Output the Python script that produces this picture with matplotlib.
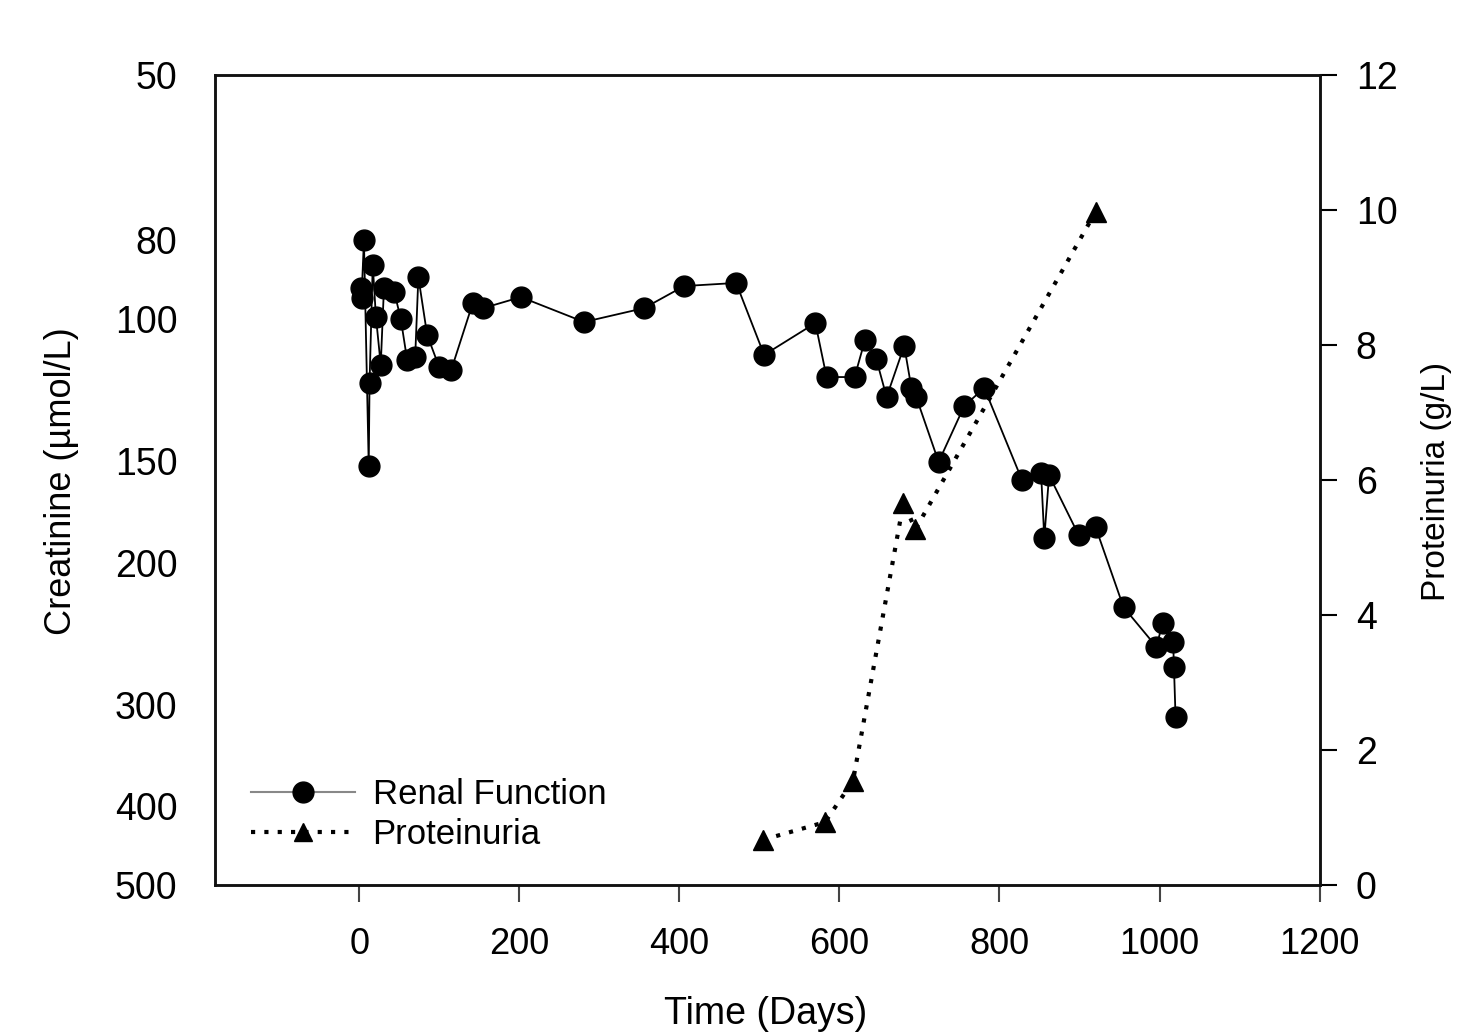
import matplotlib.pyplot as plt
from matplotlib.lines import Line2D
from matplotlib.ticker import NullFormatter

plt.rcParams['font.family'] = ['Liberation Sans', 'DejaVu Sans']

# Renal function: creatinine (umol/L) against time (days)
renal_days = [2, 3, 6, 12, 13, 17, 21, 27, 31, 44, 52, 60, 70, 74, 85, 100, 115,
              142, 155, 202, 281, 356, 406, 471, 506, 570, 584, 619, 632, 646,
              659, 681, 690, 696, 724, 756, 781, 828, 852, 856, 862, 899, 920,
              955, 996, 1004, 1017, 1018, 1020]
creatinine = [91.6, 94.2, 80, 152, 120, 85.8, 99.5, 114, 91.6, 92.7, 100, 112.4,
              111.6, 88.8, 104.7, 114.7, 115.7, 95.6, 97, 94, 100.9, 97, 91.1,
              90.3, 110.8, 101.2, 118, 118, 106.2, 112, 124.9, 108, 121.7, 124.9,
              150.2, 128.1, 121.7, 158, 155, 186.5, 156, 185, 180.7, 227, 254,
              237.4, 250.6, 269, 310]

# Proteinuria (g/L)
prot_days = [505, 582, 617, 680, 695, 920]
proteinuria = [0.67, 0.93, 1.54, 5.66, 5.27, 9.97]

creat_ticks = [50, 80, 100, 150, 200, 300, 400, 500]
prot_ticks = [0, 2, 4, 6, 8, 10, 12]
day_ticks = [0, 200, 400, 600, 800, 1000, 1200]

fig = plt.figure(figsize=(14.63, 10.35), dpi=100)
ax = fig.add_axes([0.147, 0.145, 0.755, 0.7825])

ax.plot(renal_days, creatinine, color='black', lw=1.3, marker='o',
        markersize=15, markerfacecolor='black', markeredgecolor='black')
ax.set_yscale('log')
ax.set_ylim(500, 50)
ax.set_xlim(-180, 1200)
ax.set_yticks(creat_ticks)
ax.set_yticklabels([str(t) for t in creat_ticks])
ax.yaxis.set_minor_formatter(NullFormatter())
ax.set_yticks([100], minor=True)
ax.tick_params(axis='y', which='major', length=0, pad=27, labelsize=27)
ax.tick_params(axis='y', which='minor', length=9, color='#999999', width=1.5)
ax.set_xticks(day_ticks)
ax.tick_params(axis='x', length=12, width=1.5, color='#444444', pad=18,
               labelsize=26)

ax2 = ax.twinx()
ax2.plot(prot_days, proteinuria, color='black', lw=3, linestyle=(0, (1, 2.2)),
         marker='^', markersize=15, markerfacecolor='black',
         markeredgecolor='black')
ax2.set_ylim(0, 12)
ax2.set_yticks(prot_ticks)
ax2.tick_params(axis='y', length=12, width=1.5, pad=14, labelsize=27)

for a in (ax, ax2):
    for s in a.spines.values():
        s.set_linewidth(1.8)
        s.set_color('#111111')

fig.text(0.042, 0.535, 'Creatinine (\u00b5mol/L)', rotation=90, ha='center',
         va='center', fontsize=26)
fig.text(0.982, 0.535, 'Proteinuria (g/L)', rotation=90, ha='center',
         va='center', fontsize=24)
fig.text(0.523, 0.02, 'Time (Days)', ha='center', va='center', fontsize=27)

handles = [
    Line2D([], [], color='#888888', lw=1.5, marker='o', markersize=15,
           markerfacecolor='black', markeredgecolor='black'),
    Line2D([], [], color='black', lw=3, linestyle=(0, (1, 2.2)), marker='^',
           markersize=13, markerfacecolor='black', markeredgecolor='black'),
]
ax.legend(handles, ['Renal Function', 'Proteinuria'], loc='lower left',
          bbox_to_anchor=(0.02, 0.025), frameon=False, fontsize=25,
          handlelength=3.0, handletextpad=0.5, labelspacing=0.2,
          borderaxespad=0)

fig.savefig('out.png', dpi=100)
